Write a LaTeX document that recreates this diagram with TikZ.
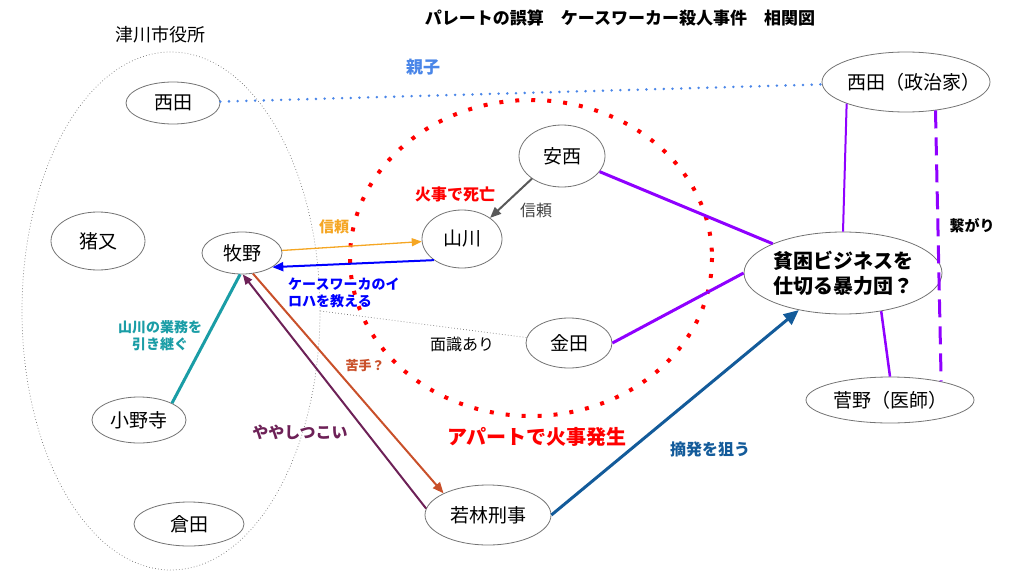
\documentclass[tikz,border=0pt]{standalone}
\usepackage{fontspec}
\setmainfont{Noto Sans CJK JP}
\usetikzlibrary{arrows.meta,shapes.geometric}
\newcommand\fsz[2]{\fontsize{#1}{#2}\selectfont}
\definecolor{oyakoblue}{HTML}{4A86E8}
\definecolor{trustorange}{HTML}{F5A623}
\definecolor{teachblue}{HTML}{0000FF}
\definecolor{succteal}{HTML}{1A9DA6}
\definecolor{pesky}{HTML}{6D2157}
\definecolor{weakred}{HTML}{C9502A}
\definecolor{bustblue}{HTML}{135B9A}
\definecolor{gangviolet}{HTML}{8F00FF}
\tikzset{>/.tip={Triangle[length=11pt,width=9pt]},
  person/.style={ellipse, draw=black!55, line width=0.8pt, inner sep=0pt, font=\fsz{19}{23}},
  lbl/.style={inner sep=0pt, align=center, font=\bfseries\fsz{15}{18}},
  gangline/.style={gangviolet, line width=3pt},
  finedots/.style={draw=black!55, line width=0.7pt, dash pattern=on 0.7pt off 2.3pt}}

\begin{document}
\begin{tikzpicture}[x=1pt,y=-1pt]
\useasboundingbox (0,0) rectangle (1024,583);
\node[lbl, font=\bfseries\fsz{17}{20}] (title) at (620,18) {パレートの誤算　ケースワーカー殺人事件　相関図};
% city office
\node[inner sep=0pt, font=\fsz{18}{22}] (officename) at (160,35) {津川市役所};
\node[ellipse, finedots, minimum width=298pt, minimum height=518pt] (office) at (171,311) {};
% the fire
\draw[red, line width=4pt, dash pattern=on 4pt off 12pt] (531,258) ellipse [x radius=181, y radius=158];
\node[person, minimum width=94pt, minimum height=42pt] (nishida) at (173,103) {西田};
\node[person, minimum width=94pt, minimum height=58pt] (inomata) at (98,241) {猪又};
\node[person, minimum width=80pt, minimum height=42pt] (makino) at (242,253) {牧野};
\node[person, minimum width=94pt, minimum height=46pt] (onodera) at (139,420) {小野寺};
\node[person, minimum width=110pt, minimum height=44pt] (kurata) at (189,524) {倉田};
\node[person, minimum width=80pt, minimum height=58pt] (yamakawa) at (462,239) {山川};
\node[person, minimum width=86pt, minimum height=62pt] (anzai) at (562,156) {安西};
\node[person, minimum width=86pt, minimum height=50pt] (kaneda) at (569,343) {金田};
\node[person, minimum width=126pt, minimum height=60pt] (wakabayashi) at (488,515) {若林刑事};
\node[person, minimum width=168pt, minimum height=60pt] (nishidaP) at (906,82) {\makebox[112pt]{\hspace{16pt}西田（政治家）}};
\node[person, align=center, font=\bfseries\fsz{20}{25}, minimum width=196pt, minimum height=82pt] (gang) at (843,273) {貧困ビジネスを\\仕切る暴力団？};
\node[person, minimum width=168pt, minimum height=46pt] (sugano) at (890,400) {菅野（医師）};
% connections
\draw[oyakoblue, line width=2.8pt, dash pattern=on 0pt off 8.7pt, line cap=round] (nishida) -- (nishidaP);
\draw[->, trustorange, line width=1.3pt, >={Triangle[length=10pt,width=8pt]}] (makino) -- (yamakawa);
\draw[->, teachblue, line width=2pt] (yamakawa.217) -- (makino.-25);
\draw[succteal, line width=3pt] (onodera.27) -- (makino.-95);
\draw[->, pesky, line width=2pt, >={Triangle[length=10pt,width=8pt]}] (wakabayashi.174) -- (makino.-88);
\draw[->, weakred, line width=2pt] (makino.-62) -- (wakabayashi.154);
\draw[->, black!65, line width=2pt] (anzai.217) -- (yamakawa.37);
\draw[finedots] (office.east) -- (kaneda);
\draw[gangline] (anzai) -- (gang);
\draw[gangline] (kaneda.east) -- (gang.west);
\draw[->, bustblue, line width=3pt, >={Triangle[length=15pt,width=13pt]}] (wakabayashi.east) -- (gang.-140);
\draw[gangline, line width=2pt] (nishidaP.-160) -- (gang.north);
\draw[gangline, dash pattern=on 18pt off 9pt] (nishidaP.-44) -- (sugano.20);
\draw[gangline, line width=2.5pt] (gang.-45) -- (sugano.north);
% labels
\node[lbl, text=oyakoblue, font=\bfseries\fsz{17}{20}] (l-oyako) at (423,67) {親子};
\node[lbl, text=trustorange] (l-trust) at (334,227) {信頼};
\node[lbl, text=teachblue, align=left, anchor=west, font=\bfseries\fsz{14}{17}] (l-teach) at (288,293) {ケースワーカのイ\\ロハを教える};
\node[lbl, text=succteal, font=\bfseries\fsz{14}{17}] (l-succeed) at (160,336) {山川の業務を\\引き継ぐ};
\node[lbl, text=pesky, font=\bfseries\fsz{16}{19}] (l-pesky) at (300,432) {ややしつこい};
\node[lbl, text=weakred, font=\bfseries\fsz{13}{16}] (l-weak) at (365,366) {苦手？};
\node[inner sep=0pt, text=black!75, font=\fsz{16}{19}] (l-trust2) at (536,210) {信頼};
\node[inner sep=0pt, font=\fsz{16}{19}] (l-acq) at (462,344) {面識あり};
\node[lbl, text=red, font=\bfseries\fsz{16}{19}] (l-death) at (455,194) {火事で死亡};
\node[lbl, text=red, font=\bfseries\fsz{20}{24}] (l-fire) at (537,437) {アパートで火事発生};
\node[lbl, text=bustblue, font=\bfseries\fsz{16}{19}] (l-bust) at (710,449) {摘発を狙う};
\node[lbl] (l-link) at (972,226) {繋がり};
\end{tikzpicture}
\end{document}
